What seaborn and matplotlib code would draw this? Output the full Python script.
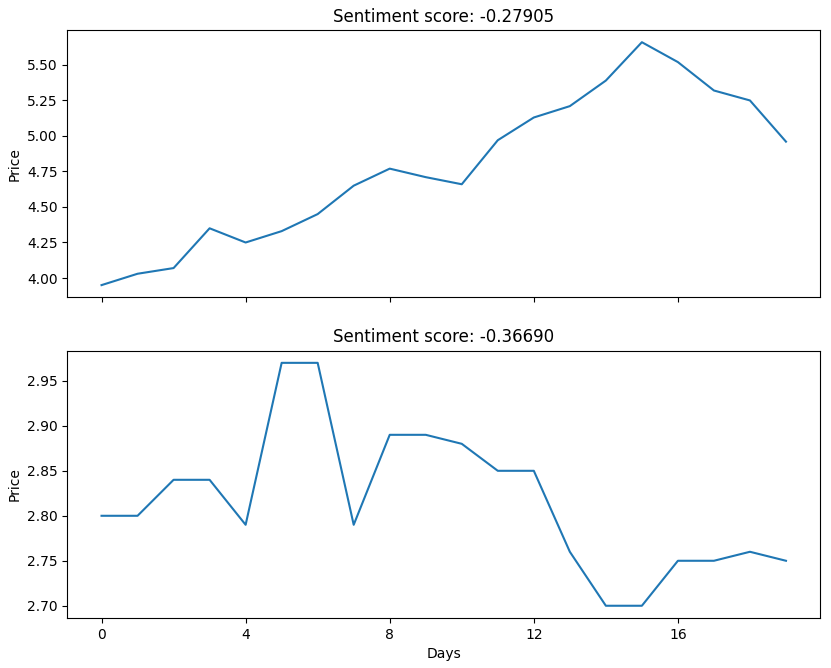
import pandas as pd
import matplotlib
matplotlib.use("Agg")
import matplotlib.pyplot as plt
import seaborn as sns

days = list(range(20))
price_a = [3.95, 4.03, 4.07, 4.35, 4.25, 4.33, 4.45, 4.65, 4.77, 4.71,
           4.66, 4.97, 5.13, 5.21, 5.39, 5.66, 5.52, 5.32, 5.25, 4.96]
price_b = [2.80, 2.80, 2.84, 2.84, 2.79, 2.97, 2.97, 2.79, 2.89, 2.89,
           2.88, 2.85, 2.85, 2.76, 2.70, 2.70, 2.75, 2.75, 2.76, 2.75]
scores = ["-0.27905", "-0.36690"]
x_ticks = [0, 4, 8, 12, 16]

df_a = pd.DataFrame({"Days": days, "Price": price_a})
df_b = pd.DataFrame({"Days": days, "Price": price_b})

fig, axes = plt.subplots(2, 1, figsize=(8.31, 6.68), dpi=100, sharex=True)

for ax, df, score in zip(axes, [df_a, df_b], scores):
    sns.lineplot(data=df, x="Days", y="Price", ax=ax, color="#1f77b4", linewidth=1.5)
    ax.set_title(f"Sentiment score: {score}", fontsize=12)
    ax.set_ylabel("Price")

axes[0].set_xlabel("")
axes[1].set_xticks(x_ticks)
axes[1].set_xlabel("Days")

plt.subplots_adjust(left=0.081, right=0.987, top=0.955, bottom=0.075, hspace=0.2)
plt.savefig("out.png", dpi=100)
